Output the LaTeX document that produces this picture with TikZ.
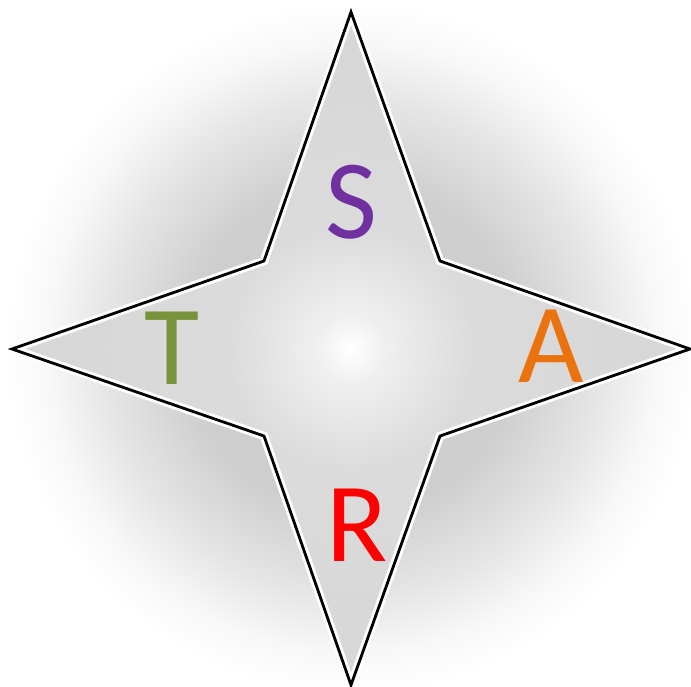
\documentclass[tikz,border=0pt]{standalone}
\usepackage{fontspec}
\setmainfont{Carlito}
\definecolor{spurple}{HTML}{7030A0}
\definecolor{tgreen}{HTML}{77933C}
\definecolor{aorange}{RGB}{235,115,15}
\definecolor{rred}{HTML}{FF0000}
\pgfdeclareradialshading{glow}{\pgfpoint{0bp}{0bp}}{color(0bp)=(black!20); color(12bp)=(black!19); color(18bp)=(black!10); color(22bp)=(black!3); color(25bp)=(white); color(50bp)=(white)}
\pgfdeclareradialshading{starfill}{\pgfpoint{0bp}{0bp}}{color(0bp)=(white); color(2.5bp)=(black!6); color(9bp)=(black!14); color(25bp)=(black!16); color(50bp)=(black!16)}
\begin{document}
\begin{tikzpicture}[x=1pt, y=-1pt, letter/.style={font=\fontsize{113}{113}\selectfont, inner sep=0pt}, rim/.style={line width=8.5pt, white, line join=miter}, edge/.style={line width=2.8pt, black, line join=miter}]

\useasboundingbox (0,0) rectangle (691,687); \fill[white] (0,0) rectangle (691,687);
\coordinate (C) at (352,348); \coordinate (N) at (351,12); \coordinate (E) at (690,349); \coordinate (S) at (351,685); \coordinate (W) at (12,349);
\coordinate (NE) at (440,261); \coordinate (SE) at (440,436); \coordinate (SW) at (264,436); \coordinate (NW) at (264,261);
\begin{scope}\clip (0,0) rectangle (691,687); \shade[shading=glow] (C) circle (345);\end{scope}
\shade[shading=starfill] (N)--(NE)--(E)--(SE)--(S)--(SW)--(W)--(NW)--cycle;
\draw[rim] (N)--(NE)--(E)--(SE)--(S)--(SW)--(W)--(NW)--cycle; \draw[edge] (N)--(NE)--(E)--(SE)--(S)--(SW)--(W)--(NW)--cycle;
\node[letter, text=spurple] (ls) at (351,202) {S}; \node[letter, text=tgreen] (lt) at (172,348) {T};
\node[letter, text=aorange] (la) at (551,346) {A}; \node[letter, text=rred] (lr) at (357,525) {R};
\end{tikzpicture}
\end{document}
